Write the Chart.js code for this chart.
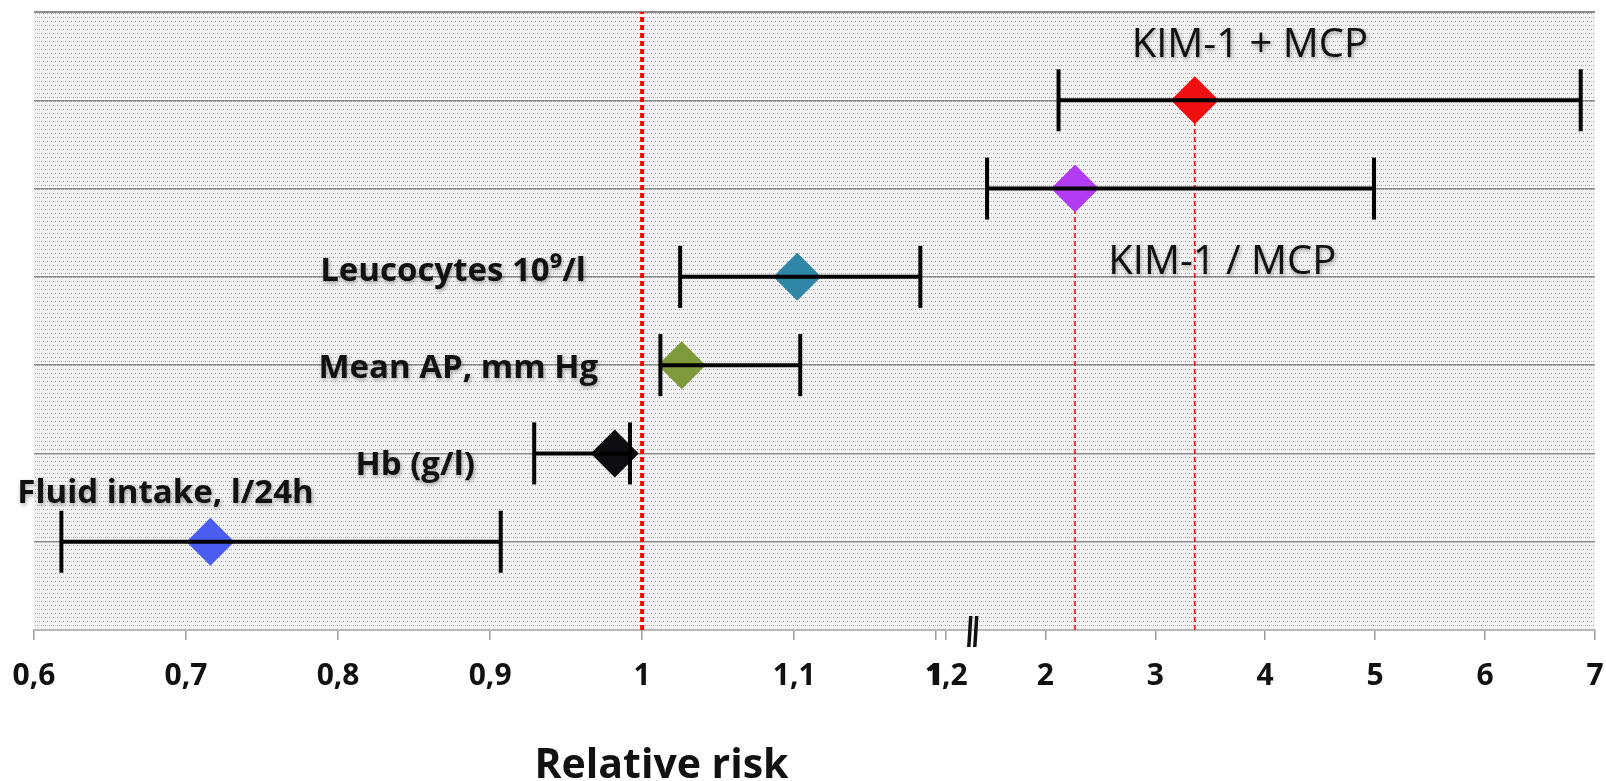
<!DOCTYPE html>
<html>
<head>
<meta charset="utf-8">
<title>Relative risk</title>
<script src="https://cdn.jsdelivr.net/npm/chart.js@4.4.1/dist/chart.umd.min.js"></script>
<style>
  html, body { margin: 0; padding: 0; background: #fff; }
  #wrap { width: 1606px; height: 781px; }
</style>
</head>
<body>
<div id="wrap"><canvas id="riskChart" width="1606" height="781"></canvas></div>
<script>
// Left panel: clinical variables, relative risk with 95% CI
const leftNames = ["Fluid intake, l/24h", "Hb (g/l)", "Mean AP, mm Hg", "Leucocytes 10⁹/l"];
const leftRisk = [0.716, 0.982, 1.026, 1.102];
const leftLow = [0.618, 0.929, 1.012, 1.025];
const leftHigh = [0.907, 0.992, 1.104, 1.183];
const leftRows = [1, 2, 3, 4];

// Right panel: urinary biomarkers
const rightNames = ["KIM-1 / MCP", "KIM-1 + MCP"];
const rightRisk = [2.27, 3.36];
const rightLow = [1.47, 2.12];
const rightHigh = [4.99, 6.87];
const rightRows = [5, 6];

const leftTicks = [0.6, 0.7, 0.8, 0.9, 1, 1.1, 1.2];
const rightTicks = [1, 2, 3, 4, 5, 6, 7];

const leftColors = ["#4b5cf0", "#0d0d12", "#7f9a3a", "#2f86a6"];
const rightColors = ["#b43cf4", "#f01010"];

// where the row names sit, in axis units (same order as the name arrays)
const leftNameSpots = [
  { x: 0.589, y: 1.55, align: "left" },
  { x: 0.890, y: 1.86, align: "right" },
  { x: 0.971, y: 2.96, align: "right" },
  { x: 0.963, y: 4.06, align: "right" }
];
const rightNameSpots = [
  { x: 3.61, y: 4.16, align: "center" },
  { x: 3.86, y: 6.62, align: "center" }
];
const axisBreakAt = 1.34;

const FONT = "'Open Sans', sans-serif";

function ciLine(axis, lo, hi, row) {
  return {
    xAxisID: axis,
    showLine: true,
    data: [{ x: lo, y: row }, { x: hi, y: row }],
    borderColor: "#000",
    borderWidth: 4,
    pointStyle: "line",
    pointRotation: 90,
    pointRadius: 31,
    pointBorderWidth: 4,
    pointBorderColor: "#000",
    order: 0
  };
}

function diamonds(axis, risk, rows, colors) {
  return {
    xAxisID: axis,
    data: risk.map((v, i) => ({ x: v, y: rows[i] })),
    pointStyle: "rectRot",
    pointRadius: 24,
    pointBackgroundColor: colors,
    pointBorderWidth: 0,
    order: 1
  };
}

function dropLine(axis, x, yTop, width, dash) {
  return {
    xAxisID: axis,
    showLine: true,
    data: [{ x: x, y: 0 }, { x: x, y: yTop }],
    borderColor: "#ff0000",
    borderWidth: width,
    borderDash: dash,
    pointRadius: 0,
    order: 2
  };
}

const datasets = [];
leftRows.forEach((row, i) => datasets.push(ciLine("xL", leftLow[i], leftHigh[i], row)));
rightRows.forEach((row, i) => datasets.push(ciLine("xR", rightLow[i], rightHigh[i], row)));
datasets.push(diamonds("xL", leftRisk, leftRows, leftColors));
datasets.push(diamonds("xR", rightRisk, rightRows, rightColors));
datasets.push(dropLine("xL", 1, 7, 4, [5, 3]));
rightRows.forEach((row, i) => datasets.push(dropLine("xR", rightRisk[i], row, 1.5, [5, 3])));

// stippled fill behind the plot
function dotTile() {
  const c = document.createElement("canvas");
  c.width = 8;
  c.height = 8;
  const g = c.getContext("2d");
  g.fillStyle = "#f3f3f3";
  g.fillRect(0, 0, 8, 8);
  g.fillStyle = "#9c9c9c";
  [[1, 1], [5, 1], [3, 5], [7, 5]].forEach(([x, y]) => g.fillRect(x, y, 1, 1));
  g.fillStyle = "#d4d4d4";
  [[3, 1], [7, 1], [1, 5], [5, 5]].forEach(([x, y]) => g.fillRect(x, y, 1, 1));
  return c;
}

const dotBackground = {
  id: "dotBackground",
  beforeDraw(chart) {
    const { ctx, chartArea: a } = chart;
    ctx.save();
    ctx.fillStyle = ctx.createPattern(dotTile(), "repeat");
    ctx.fillRect(a.left, a.top, a.right - a.left, a.bottom - a.top);
    ctx.restore();
  }
};

const rowNames = {
  id: "rowNames",
  afterDraw(chart) {
    const { ctx, scales } = chart;
    const put = (text, spot, axis, font) => {
      ctx.textAlign = spot.align;
      ctx.font = font;
      ctx.fillText(text, scales[axis].getPixelForValue(spot.x), scales.y.getPixelForValue(spot.y));
    };
    ctx.save();
    ctx.fillStyle = "#111";
    ctx.textBaseline = "middle";
    ctx.shadowColor = "rgba(0,0,0,0.35)";
    ctx.shadowBlur = 4;
    ctx.shadowOffsetX = 1;
    ctx.shadowOffsetY = 2;
    leftNames.forEach((t, i) => put(t, leftNameSpots[i], "xL", "bold 33px " + FONT));
    rightNames.forEach((t, i) => put(t, rightNameSpots[i], "xR", "40px " + FONT));
    ctx.restore();

    // axis break mark and axis title
    const bx = scales.xR.getPixelForValue(axisBreakAt);
    const by = scales.y.getPixelForValue(0);
    ctx.save();
    ctx.strokeStyle = "#111";
    ctx.lineWidth = 3.5;
    [-3, 3].forEach((dx) => {
      ctx.beginPath();
      ctx.moveTo(bx + dx + 1, by - 14);
      ctx.lineTo(bx + dx - 1, by + 17);
      ctx.stroke();
    });
    const a = chart.chartArea;
    ctx.fillStyle = "#111";
    ctx.font = "bold 41px " + FONT;
    ctx.textAlign = "center";
    ctx.textBaseline = "middle";
    ctx.fillText("Relative risk", a.left + 0.402 * (a.right - a.left), chart.height - 15);
    ctx.restore();
  }
};

function xAxis(min, max, ticks, weight) {
  return {
    type: "linear",
    position: "bottom",
    stack: "rr",
    stackWeight: weight,
    min: min,
    max: max,
    afterBuildTicks: (s) => { s.ticks = ticks.map((value) => ({ value })); },
    afterFit: (s) => { s.paddingLeft = 0; s.paddingRight = 0; },
    ticks: {
      autoSkip: false,
      maxRotation: 0,
      padding: 18,
      color: "#111",
      font: { family: FONT, size: 30, weight: "bold" },
      callback: (v) => String(v).replace(".", ",")
    },
    grid: { drawOnChartArea: false, tickLength: 10, color: "#9a9a9a", lineWidth: 1.5 },
    border: { color: "#b8b8b8", width: 2 }
  };
}

new Chart(document.getElementById("riskChart"), {
  type: "scatter",
  data: { datasets: datasets },
  options: {
    responsive: false,
    animation: false,
    layout: { autoPadding: false, padding: { left: 34, right: 11, top: 12, bottom: 69 } },
    plugins: { legend: { display: false }, tooltip: { enabled: false } },
    scales: {
      y: {
        min: 0,
        max: 7,
        ticks: { display: false, stepSize: 1 },
        border: { display: false },
        grid: {
          drawTicks: false,
          color: (c) => (c.tick.value === 0 ? "rgba(0,0,0,0)" : "#8c8c8c"),
          lineWidth: (c) => (c.tick.value === 7 ? 2 : 1.5)
        }
      },
      xL: xAxis(0.6, 1.19, leftTicks, 897),
      xR: xAxis(0.96, 7, rightTicks, 664)
    }
  },
  plugins: [dotBackground, rowNames]
});
</script>
</body>
</html>
